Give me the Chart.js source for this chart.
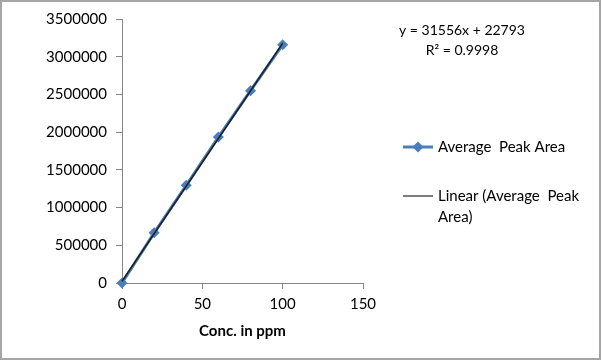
<!DOCTYPE html>
<html><head><meta charset="utf-8">
<script src="https://cdn.jsdelivr.net/npm/chart.js@4/dist/chart.umd.min.js"></script>
<style>html,body{margin:0;padding:0;background:#fff}#wrap{width:602px;height:362px;position:relative}</style>
</head><body><div id="wrap"><canvas id="c" width="602" height="362"></canvas></div>
<script>
// ---- data ----
const concPpm = [0, 20, 40, 60, 80, 100];
const avgPeakArea = [0, 665000, 1295000, 1935000, 2550000, 3160000];
const trendX = [0, 100];
const trendY = [22793, 3178393];
const xTickValues = [0, 50, 100, 150];
const yTickValues = [0, 500000, 1000000, 1500000, 2000000, 2500000, 3000000, 3500000];
const seriesName = 'Average  Peak Area';
const trendNameLines = ['Linear (Average  Peak', 'Area)'];
const equationLines = ['y = 31556x + 22793', 'R\u00B2 = 0.9998'];
const xTitle = 'Conc. in ppm';

const FONT = 'Lato, "Open Sans", sans-serif';
const BLUE = '#4a7ebb';
const AXIS = '#868686';

const extras = {
  id: 'extras',
  afterDraw(chart) {
    const ctx = chart.ctx;
    ctx.save();
    // outer border
    ctx.strokeStyle = '#a6a6a6';
    ctx.lineWidth = 2;
    ctx.strokeRect(1, 1, 599, 358);
    // equation
    ctx.fillStyle = '#000';
    ctx.textAlign = 'center';
    ctx.textBaseline = 'middle';
    ctx.font = '14px ' + FONT;
    ctx.fillText(equationLines[0], 462, 30);
    ctx.fillText(equationLines[1], 462, 50);
    // legend
    ctx.strokeStyle = BLUE;
    ctx.lineWidth = 3;
    ctx.beginPath(); ctx.moveTo(403, 147); ctx.lineTo(433, 147); ctx.stroke();
    ctx.fillStyle = BLUE;
    ctx.beginPath();
    ctx.moveTo(418, 141.5); ctx.lineTo(423.5, 147); ctx.lineTo(418, 152.5); ctx.lineTo(412.5, 147); ctx.closePath(); ctx.fill();
    ctx.strokeStyle = '#7f7f7f';
    ctx.lineWidth = 2;
    ctx.beginPath(); ctx.moveTo(403, 196); ctx.lineTo(433, 196); ctx.stroke();
    ctx.fillStyle = '#000';
    ctx.textAlign = 'left';
    ctx.font = '15px ' + FONT;
    ctx.fillText(seriesName, 438, 147);
    ctx.fillText(trendNameLines[0], 438, 196);
    ctx.fillText(trendNameLines[1], 438, 217);
    ctx.restore();
  }
};

new Chart(document.getElementById('c'), {
  type: 'scatter',
  data: {
    datasets: [
      {
        label: 'Linear (Average  Peak Area)',
        data: trendX.map((x, i) => ({x, y: trendY[i]})),
        showLine: true,
        borderColor: '#1f1f1f',
        borderWidth: 1.5,
        pointRadius: 0,
        clip: false,
        order: 0
      },
      {
        label: seriesName,
        data: concPpm.map((x, i) => ({x, y: avgPeakArea[i]})),
        showLine: true,
        borderColor: BLUE,
        borderWidth: 3,
        pointStyle: 'rectRot',
        pointRadius: 5.5,
        pointBackgroundColor: BLUE,
        pointBorderColor: BLUE,
        pointBorderWidth: 0,
        clip: false,
        order: 1
      }
    ]
  },
  options: {
    responsive: false,
    animation: false,
    devicePixelRatio: 1,
    layout: { padding: { left: 0, top: 19, right: 239, bottom: 0 } },
    plugins: { legend: { display: false }, tooltip: { enabled: false } },
    scales: {
      x: {
        type: 'linear', min: 0, max: 150,
        afterBuildTicks: s => { s.ticks = xTickValues.map(v => ({value: v})); },
        afterFit: s => { s.height = 79; },
        ticks: { color: '#000', font: { family: FONT, size: 15 }, padding: 6, maxRotation: 0 },
        grid: { drawOnChartArea: false, drawTicks: true, tickLength: 6, color: AXIS },
        border: { color: AXIS, width: 1 },
        title: { display: true, text: xTitle, color: '#000', font: { family: FONT, size: 15, weight: 'bold' }, padding: { top: 0, bottom: 22 } }
      },
      y: {
        type: 'linear', min: 0, max: 3500000,
        afterBuildTicks: s => { s.ticks = yTickValues.map(v => ({value: v})); },
        afterFit: s => { s.width = 122; },
        ticks: { color: '#000', font: { family: FONT, size: 15 }, padding: 9, callback: v => String(v) },
        grid: { drawOnChartArea: false, drawTicks: true, tickLength: 6, color: AXIS },
        border: { color: AXIS, width: 1 }
      }
    }
  },
  plugins: [extras]
});
</script>
</body></html>
